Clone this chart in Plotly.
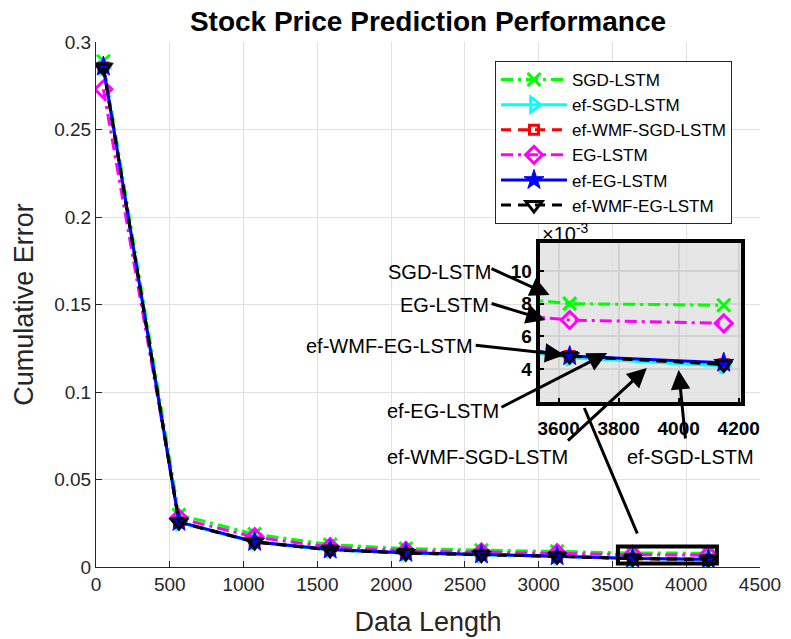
import plotly.graph_objects as go

# ---- data -------------------------------------------------------------
data_length = [50, 562, 1075, 1587, 2100, 2612, 3125, 3637, 4150]

sgd_lstm = [0.289, 0.0298, 0.0188, 0.0128, 0.0105, 0.0095, 0.0089, 0.0080, 0.0079]
ef_sgd_lstm = [0.2855, 0.0254, 0.0141, 0.0097, 0.0078, 0.0069, 0.0060, 0.0047, 0.0042]
ef_wmf_sgd_lstm = [0.2855, 0.0256, 0.0143, 0.0099, 0.0080, 0.0071, 0.0061, 0.0048, 0.0043]
eg_lstm = [0.273, 0.0278, 0.0171, 0.0114, 0.0092, 0.0084, 0.0079, 0.0070, 0.0068]
ef_eg_lstm = [0.286, 0.0258, 0.0144, 0.0100, 0.0081, 0.0072, 0.0062, 0.0048, 0.0044]
ef_wmf_eg_lstm = [0.2855, 0.0257, 0.0143, 0.0099, 0.0080, 0.0071, 0.0061, 0.0048, 0.0043]

series_names = ["SGD-LSTM", "ef-SGD-LSTM", "ef-WMF-SGD-LSTM",
                "EG-LSTM", "ef-EG-LSTM", "ef-WMF-EG-LSTM"]
series_values = [sgd_lstm, ef_sgd_lstm, ef_wmf_sgd_lstm,
                 eg_lstm, ef_eg_lstm, ef_wmf_eg_lstm]

x_ticks = [0, 500, 1000, 1500, 2000, 2500, 3000, 3500, 4000, 4500]
x_tick_labels = ["0", "500", "1000", "1500", "2000", "2500", "3000", "3500", "4000", "4500"]
y_ticks = [0, 0.05, 0.1, 0.15, 0.2, 0.25, 0.3]
y_tick_labels = ["0", "0.05", "0.1", "0.15", "0.2", "0.25", "0.3"]

inset_x_ticks = [3600, 3800, 4000, 4200]
inset_y_ticks = [0.004, 0.006, 0.008, 0.010]
inset_y_labels = ["4", "6", "8", "10"]

# ---- styles ----------------------------------------------------------
FONT = "Liberation Sans, Arial, Helvetica, sans-serif"
styles = [
    dict(color="#00ff00", dash="12px,5px,3px,5px", symbol="x-thin", size=13, filled=False),
    dict(color="#00ffff", dash="solid", symbol="triangle-right-open", size=13, filled=False),
    dict(color="#ff0000", dash="10px,7px", symbol="square-open", size=9, filled=False),
    dict(color="#ff00ff", dash="12px,5px,3px,5px", symbol="diamond-open", size=13, filled=False),
    dict(color="#0000ff", dash="solid", symbol="star", size=15, filled=True),
    dict(color="#000000", dash="10px,7px", symbol="triangle-down-open", size=14, filled=False),
]

# figure geometry (pixels)
W, H = 791, 639
L, R, T, B = 96, 26, 42, 72
PW, PH = W - L - R, H - T - B


def px(xp):
    return (xp - L) / PW


def py(yp):
    return (H - B - yp) / PH


fig = go.Figure()

for name, vals, st in zip(series_names, series_values, styles):
    marker = dict(symbol=st["symbol"], size=st["size"], color=st["color"],
                  line=dict(color=st["color"], width=3 if not st["filled"] else 1))
    line = dict(color=st["color"], width=3, dash=st["dash"])
    fig.add_trace(go.Scatter(x=data_length, y=vals, name=name, mode="lines+markers",
                             line=line, marker=marker, xaxis="x", yaxis="y"))
    fig.add_trace(go.Scatter(x=data_length, y=vals, name=name, mode="lines+markers",
                             line=line, marker=marker, xaxis="x2", yaxis="y2",
                             showlegend=False))

tick_font = dict(family=FONT, size=19, color="#262626")
inset_font = dict(family=FONT, size=19, color="#000000", weight="bold")

fig.update_layout(
    width=W, height=H,
    margin=dict(l=L, r=R, t=T, b=B),
    paper_bgcolor="white", plot_bgcolor="rgba(0,0,0,0)",
    font=dict(family=FONT, color="#262626"),
    title=dict(text="<b>Stock Price Prediction Performance</b>",
               font=dict(family=FONT, size=28, color="#000000"),
               x=0.5, xanchor="center", xref="paper",
               y=1 - 21 / H, yanchor="middle", yref="container"),
    xaxis=dict(domain=[0, 1], range=[0, 4500], tickvals=x_ticks, ticktext=x_tick_labels,
               tickfont=tick_font, showgrid=True, gridcolor="#e0e0e0", gridwidth=1,
               showline=True, linecolor="#262626", linewidth=1, ticks="inside",
               ticklen=6, tickcolor="#262626", zeroline=False, mirror=False,
               automargin=False,
               title=dict(text="Data Length", font=dict(family=FONT, size=27, color="#262626"),
                          standoff=18)),
    yaxis=dict(domain=[0, 1], range=[0, 0.3], tickvals=y_ticks, ticktext=y_tick_labels,
               tickfont=tick_font, showgrid=True, gridcolor="#e0e0e0", gridwidth=1,
               showline=True, linecolor="#262626", linewidth=1, ticks="inside",
               ticklen=6, tickcolor="#262626", zeroline=False, mirror=False,
               automargin=False,
               title=dict(text="Cumulative Error", font=dict(family=FONT, size=27, color="#262626"),
                          standoff=12)),
    xaxis2=dict(domain=[px(543), px(746)], range=[3537, 4208], anchor="y2",
                tickvals=inset_x_ticks, tickfont=inset_font, showgrid=True,
                gridcolor="#d2d2d2", gridwidth=2, showline=True, linecolor="#000000",
                linewidth=4, mirror=True, ticks="inside", ticklen=4, tickcolor="#000000",
                tickwidth=2, zeroline=False, ticklabelstandoff=6),
    yaxis2=dict(domain=[py(402), py(243)], range=[0.002, 0.0117], anchor="x2",
                tickvals=inset_y_ticks, ticktext=inset_y_labels, tickfont=inset_font,
                showgrid=True, gridcolor="#d2d2d2", gridwidth=2, showline=True,
                linecolor="#000000", linewidth=4, mirror=True, ticks="inside", ticklen=4,
                tickcolor="#000000", tickwidth=2, zeroline=False),
    legend=dict(x=px(498), y=py(61), xanchor="left", yanchor="top",
                bgcolor="white", bordercolor="#262626", borderwidth=1,
                font=dict(family=FONT, size=17, color="#000000"),
                itemwidth=66, tracegroupgap=0),
    showlegend=True,
)

# grey background of the zoom panel
fig.add_shape(type="rect", xref="x2 domain", yref="y2 domain", x0=0, x1=1, y0=0, y1=1,
              fillcolor="#e6e6e6", line=dict(width=0), layer="below")

# box around the zoomed region on the main axes
fig.add_shape(type="rect", xref="x", yref="y", x0=3537, x1=4208, y0=0.002, y1=0.0117,
              line=dict(color="#000000", width=4), fillcolor="rgba(0,0,0,0)")

annotations = []

# exponent label of the zoom panel
annotations.append(dict(text="×10<sup>-3</sup>", xref="paper", yref="paper",
                        x=px(543), y=py(232), xanchor="left", yanchor="middle",
                        showarrow=False, font=dict(family=FONT, size=20, color="#000000")))

# callout labels: (text, text x, text y, anchor, arrow tail, arrow head)
callouts = [
    ("SGD-LSTM", 496, 272, "right", (493, 268), (553, 295)),
    ("EG-LSTM", 494, 305, "right", (493, 303), (549, 320)),
    ("ef-WMF-EG-LSTM", 478, 346, "right", (477, 345), (568, 355)),
    ("ef-EG-LSTM", 504, 411, "right", (503, 408), (611, 353)),
    ("ef-WMF-SGD-LSTM", 480, 457, "center", (570, 442), (651, 368)),
    ("ef-SGD-LSTM", 695, 457, "center", (690, 440), (683, 370)),
]
for text, tx, ty, anchor, tail, head in callouts:
    annotations.append(dict(text=text, xref="paper", yref="paper", x=px(tx), y=py(ty),
                            xanchor=anchor, yanchor="middle", showarrow=False,
                            font=dict(family=FONT, size=20, color="#000000")))
    annotations.append(dict(text="", xref="x domain", yref="y domain",
                            axref="x domain", ayref="y domain",
                            x=px(head[0]), y=py(head[1]), ax=px(tail[0]), ay=py(tail[1]),
                            showarrow=True, arrowhead=2, arrowsize=1.3, arrowwidth=3,
                            arrowcolor="#000000"))

# connector from the boxed region to the zoom panel
annotations.append(dict(text="", xref="x domain", yref="y domain",
                        axref="x domain", ayref="y domain",
                        x=px(588), y=py(408), ax=px(642), ay=py(535),
                        showarrow=True, arrowhead=0, arrowwidth=3, arrowcolor="#000000"))

fig.update_layout(annotations=annotations)

fig.write_html("out.html")
